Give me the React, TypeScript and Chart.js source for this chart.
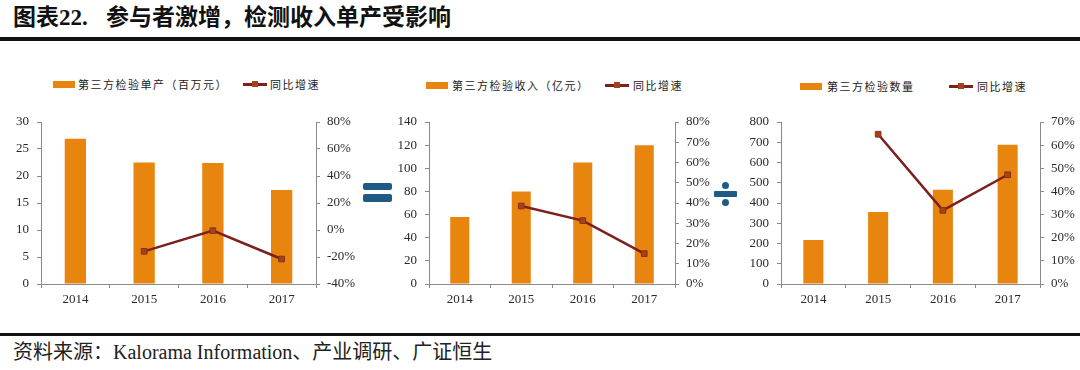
import React, { useEffect, useRef } from "react";
import { Chart, registerables } from "chart.js";

Chart.register(...registerables);

const years = ["2014", "2015", "2016", "2017"];
const unitOutput = [26.9, 22.5, 22.4, 17.4];
const unitGrowth = [null, -15.8, -0.5, -21.5];
const revenue = [58, 80, 105, 120];
const revenueGrowth = [null, 38.5, 31.3, 15];
const volume = [217, 355, 465, 688];
const volumeGrowth = [null, 64.7, 31.8, 47.2];

const titleLead = "图表22.";
const titleMain = "参与者激增，检测收入单产受影响";
const sourceText = "资料来源：Kalorama Information、产业调研、广证恒生";
const unitLabel = "第三方检验单产（百万元）";
const revenueLabel = "第三方检验收入（亿元）";
const volumeLabel = "第三方检验数量";
const growthLabel = "同比增速";

const BAR = "#E8850F";
const LINE = "#7C1F1F";
const POINT = "#A2431B";
const AXIS = "#8a8a8a";
const TICK = "#2a2a2a";
const SYMBOL = "#1F5A85";
const SERIF = '"Liberation Serif", "Noto Sans CJK SC", serif';
const CJK = '"Noto Sans CJK SC", "Liberation Serif", sans-serif';

type ChartProps = {
  left: number;
  width: number;
  bars: number[];
  growth: (number | null)[];
  leftMax: number;
  leftStep: number;
  rightMin: number;
  rightMax: number;
  rightStep: number;
  leftW: number;
  rightW: number;
};

function ComboChart(p: ChartProps) {
  const ref = useRef<HTMLCanvasElement | null>(null);
  useEffect(() => {
    if (!ref.current) return;
    const font = { family: SERIF, size: 13 };
    const chart = new Chart(ref.current, {
      type: "bar",
      data: {
        labels: years,
        datasets: [
          {
            type: "line",
            data: p.growth,
            yAxisID: "y1",
            borderColor: LINE,
            borderWidth: 2.5,
            pointStyle: "rect",
            pointRadius: 4,
            pointBackgroundColor: POINT,
            pointBorderColor: "#8a3018",
            pointBorderWidth: 1,
            order: 0,
          } as any,
          {
            type: "bar",
            data: p.bars,
            yAxisID: "y",
            backgroundColor: BAR,
            barPercentage: 0.31,
            categoryPercentage: 1,
            order: 1,
          } as any,
        ],
      },
      options: {
        animation: false,
        responsive: false,
        maintainAspectRatio: false,
        layout: { padding: { top: 22, left: 0, right: 0, bottom: 0 } },
        plugins: { legend: { display: false }, tooltip: { enabled: false } },
        scales: {
          x: {
            grid: {
              display: true,
              drawOnChartArea: false,
              drawTicks: true,
              tickLength: 4,
              color: AXIS,
              offset: true,
            },
            border: { display: true, color: AXIS, width: 1 },
            ticks: { font, color: TICK, padding: 4, maxRotation: 0 },
            afterFit: (s: any) => {
              s.height = 26;
            },
          },
          y: {
            position: "left",
            min: 0,
            max: p.leftMax,
            ticks: { stepSize: p.leftStep, font, color: TICK, padding: 8 },
            grid: { drawOnChartArea: false, drawTicks: true, tickLength: 4, color: AXIS },
            border: { display: true, color: AXIS, width: 1 },
            afterFit: (s: any) => {
              s.width = p.leftW;
            },
          },
          y1: {
            position: "right",
            min: p.rightMin,
            max: p.rightMax,
            ticks: {
              stepSize: p.rightStep,
              font,
              color: TICK,
              padding: 7,
              callback: (v: any) => `${Math.round(Number(v))}%`,
            },
            grid: { drawOnChartArea: false, drawTicks: true, tickLength: 4, color: AXIS },
            border: { display: true, color: AXIS, width: 1 },
            afterFit: (s: any) => {
              s.width = p.rightW;
            },
          },
        },
      } as any,
    });
    return () => chart.destroy();
  }, []);
  return (
    <canvas
      ref={ref}
      width={p.width}
      height={210}
      style={{ position: "absolute", left: p.left, top: 100, width: p.width, height: 210 }}
    />
  );
}

function Legend(props: { y: number; boxX: number; text: string; textX: number; lineX: number; lineTextX: number }) {
  const txt: React.CSSProperties = {
    position: "absolute",
    top: props.y - 9,
    height: 18,
    lineHeight: "18px",
    fontFamily: CJK,
    fontSize: 11,
    letterSpacing: 1.5,
    color: "#222",
    whiteSpace: "nowrap",
  };
  return (
    <>
      <div style={{ position: "absolute", left: props.boxX, top: props.y - 3.5, width: 22, height: 7, background: BAR }} />
      <div style={{ ...txt, left: props.textX }}>{props.text}</div>
      <div style={{ position: "absolute", left: props.lineX, top: props.y - 1.5, width: 24, height: 3, background: LINE }} />
      <div style={{ position: "absolute", left: props.lineX + 9, top: props.y - 3, width: 6, height: 6, background: POINT }} />
      <div style={{ ...txt, left: props.lineTextX }}>{growthLabel}</div>
    </>
  );
}

export default function App() {
  const titleStyle: React.CSSProperties = {
    position: "absolute",
    top: 4,
    fontFamily: SERIF,
    fontWeight: "bold",
    fontSize: 23,
    lineHeight: "28px",
    whiteSpace: "pre",
    color: "#111",
  };
  return (
    <div style={{ position: "absolute", left: 0, top: 0, width: 1080, height: 370, background: "#fff", overflow: "hidden" }}>
      <div style={{ ...titleStyle, left: 13 }}>{titleLead}</div>
      <div style={{ ...titleStyle, left: 106 }}>{titleMain}</div>
      <div style={{ position: "absolute", left: 0, top: 37, width: 1080, height: 4, background: "#111" }} />

      <Legend y={84} boxX={53} text={unitLabel} textX={78} lineX={243} lineTextX={270} />
      <Legend y={85} boxX={426} text={revenueLabel} textX={452} lineX={605} lineTextX={633} />
      <Legend y={86} boxX={800} text={volumeLabel} textX={827} lineX={949} lineTextX={977} />

      <ComboChart left={0} width={360} bars={unitOutput} growth={unitGrowth} leftMax={30} leftStep={5} rightMin={-40} rightMax={80} rightStep={20} leftW={41} rightW={44} />
      <ComboChart left={390} width={330} bars={revenue} growth={revenueGrowth} leftMax={140} leftStep={20} rightMin={0} rightMax={80} rightStep={10} leftW={39} rightW={45} />
      <ComboChart left={740} width={340} bars={volume} growth={volumeGrowth} leftMax={800} leftStep={100} rightMin={0} rightMax={70} rightStep={10} leftW={41} rightW={40} />

      <div style={{ position: "absolute", left: 363, top: 183, width: 29, height: 7, background: SYMBOL, borderRadius: 2 }} />
      <div style={{ position: "absolute", left: 363, top: 194, width: 29, height: 8, background: SYMBOL, borderRadius: 2 }} />

      <div style={{ position: "absolute", left: 722, top: 182, width: 7, height: 7, background: SYMBOL, borderRadius: "50%" }} />
      <div style={{ position: "absolute", left: 714, top: 191, width: 23, height: 6, background: SYMBOL, borderRadius: 1 }} />
      <div style={{ position: "absolute", left: 722, top: 199, width: 7, height: 7, background: SYMBOL, borderRadius: "50%" }} />

      <div style={{ position: "absolute", left: 0, top: 333, width: 1080, height: 3, background: "#111" }} />
      <div
        style={{
          position: "absolute",
          left: 13,
          top: 340,
          fontFamily: SERIF,
          fontSize: 20,
          lineHeight: "24px",
          whiteSpace: "pre",
          color: "#222",
        }}
      >
        {sourceText}
      </div>
    </div>
  );
}
